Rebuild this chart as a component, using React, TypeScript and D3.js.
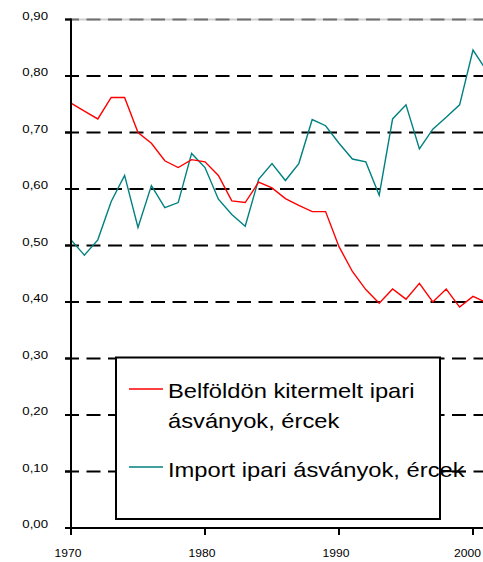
import React from "react";
import * as d3 from "d3";

const years = d3.range(1970, 2002);
const domestic = [
  0.752, 0.738, 0.724, 0.762, 0.762, 0.700, 0.681, 0.650, 0.638, 0.652,
  0.648, 0.624, 0.579, 0.576, 0.612, 0.602, 0.583, 0.571, 0.560, 0.560,
  0.498, 0.454, 0.422, 0.398, 0.423, 0.405, 0.433, 0.400, 0.423, 0.391,
  0.410, 0.399,
];
const imports = [
  0.510, 0.483, 0.510, 0.578, 0.624, 0.532, 0.606, 0.567, 0.576, 0.663,
  0.638, 0.582, 0.555, 0.534, 0.617, 0.645, 0.615, 0.645, 0.723, 0.712,
  0.681, 0.653, 0.648, 0.589, 0.724, 0.749, 0.671, 0.706, 0.727, 0.749,
  0.846, 0.810,
];
const yTicks = [0, 0.1, 0.2, 0.3, 0.4, 0.5, 0.6, 0.7, 0.8, 0.9];
const xTicks = [1970, 1980, 1990, 2000];
const legendLabels = [
  ["Belföldön kitermelt ipari", "ásványok, ércek"],
  ["Import ipari ásványok, ércek"],
];

const W = 483;
const H = 562;

export default function App() {
  const x = d3.scaleLinear().domain([1970, 2001]).range([71, 71 + 31 * 13.4]);
  const y = d3.scaleLinear().domain([0, 0.9]).range([528, 19.5]);
  const fmt = (v: number) => d3.format(".2f")(v).replace(".", ",");
  const line = d3
    .line<number>()
    .x((_, i) => x(years[i]))
    .y((d) => y(d));
  const font = "'Liberation Sans', Arial, sans-serif";
  const sx = 1.15;
  const xsx = 1.05;
  const lx = 1.13;
  return (
    <svg
      width={W}
      height={H}
      style={{ position: "absolute", left: 0, top: 0, background: "#fff" }}
    >
      <rect x={0} y={0} width={W} height={H} fill="#fff" />
      {/* gridlines */}
      {yTicks.slice(1).map((t) => (
        <g key={t}>
          {t === 0.9 && (
            <line x1={65} x2={W} y1={y(t)} y2={y(t)} stroke="#cfcfcf" strokeWidth={2} />
          )}
          <line
            x1={65}
            x2={W}
            y1={y(t)}
            y2={y(t)}
            stroke={t === 0.9 ? "#707070" : "#000"}
            strokeWidth={2}
            strokeDasharray="14 7.5"
          />
        </g>
      ))}
      {/* y labels */}
      {yTicks.map((t) => (
        <text
          key={"yl" + t}
          transform={`translate(48,${y(t) - 4}) scale(${sx},1)`}
          dy="0.35em"
          textAnchor="end"
          fontFamily={font}
          fontSize={11.5}
          fill="#000"
        >
          {fmt(t)}
        </text>
      ))}
      {/* series */}
      <path d={line(imports) || ""} fill="none" stroke="#008080" strokeWidth={1.4} />
      <path d={line(domestic) || ""} fill="none" stroke="#ff0000" strokeWidth={1.4} />
      {/* axes */}
      <line x1={71} x2={71} y1={18.5} y2={529} stroke="#000" strokeWidth={2} />
      <line x1={65} x2={W} y1={528} y2={528} stroke="#000" strokeWidth={2} />
      {yTicks.map((t) => (
        <line key={"yt" + t} x1={65} x2={71} y1={y(t)} y2={y(t)} stroke="#000" strokeWidth={2} />
      ))}
      {xTicks.map((t) => (
        <g key={"xt" + t}>
          <line x1={x(t)} x2={x(t)} y1={528} y2={535} stroke="#000" strokeWidth={2} />
          <text
            transform={`translate(${Math.min(x(t) - 3, 467.5)},557) scale(${xsx},1)`}
            textAnchor="middle"
            fontFamily={font}
            fontSize={11.5}
            fill="#000"
          >
            {t}
          </text>
        </g>
      ))}
      {/* legend */}
      <rect x={116} y={357.5} width={324} height={161.5} fill="#fff" stroke="#000" strokeWidth={2} />
      <line x1={129} x2={163} y1={389} y2={389} stroke="#ff0000" strokeWidth={1.4} />
      <line x1={129} x2={163} y1={467} y2={467} stroke="#008080" strokeWidth={1.4} />
      <line x1={440} x2={466} y1={y(0.1)} y2={y(0.1)} stroke="#000" strokeWidth={1.4} />
      <text transform={`translate(168,398) scale(${lx},1)`} fontFamily={font} fontSize={21} fill="#000">
        {legendLabels[0][0]}
      </text>
      <text transform={`translate(168,428) scale(${lx},1)`} fontFamily={font} fontSize={21} fill="#000">
        {legendLabels[0][1]}
      </text>
      <text transform={`translate(168,477) scale(${lx},1)`} fontFamily={font} fontSize={21} fill="#000">
        {legendLabels[1][0]}
      </text>
    </svg>
  );
}
